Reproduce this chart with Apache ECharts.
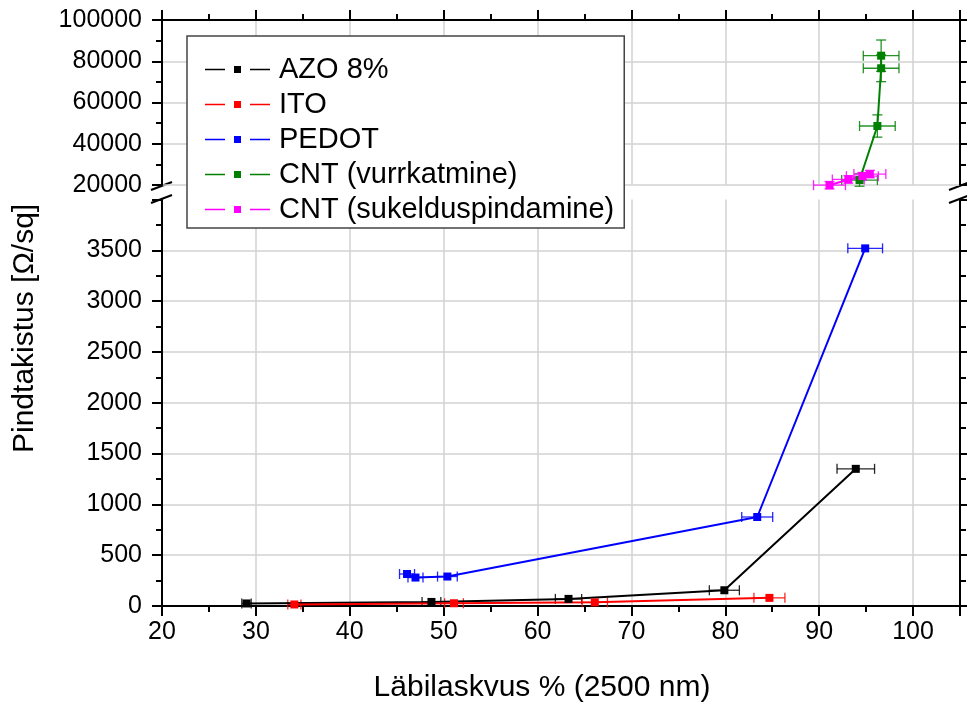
<!DOCTYPE html>
<html>
<head>
<meta charset="utf-8">
<script src="https://cdn.jsdelivr.net/npm/echarts@6/dist/echarts.min.js"></script>
<style>
html,body{margin:0;padding:0;background:#fff;}
#chart{width:967px;height:706px;}
</style>
</head>
<body>
<div id="chart"></div>
<script>
// ---- data ----
const seriesNames = ['AZO 8%', 'ITO', 'PEDOT', 'CNT (vurrkatmine)', 'CNT (sukelduspindamine)'];
const azoX = [29.0, 48.7, 63.3, 79.9, 93.9];
const azoY = [25, 40, 70, 155, 1350];
const azoXErr = [0.5, 1.0, 1.4, 1.6, 2.0];
const itoX = [34.1, 51.1, 66.1, 84.7];
const itoY = [15, 27, 36, 80];
const itoXErr = [0.7, 1.0, 1.35, 1.65];
const pedotX = [46.1, 47.0, 50.4, 83.4, 94.9];
const pedotY = [315, 280, 290, 876, 3520];
const pedotXErr = [0.8, 0.8, 1.05, 1.65, 1.85];
const cntSpinX = [94.3, 96.2, 96.6, 96.6];
const cntSpinY = [22400, 48600, 76600, 82700];
const cntSpinXErr = [1.9, 1.9, 1.9, 1.9];
const cntSpinYErr = [3000, 5400, 6500, 7600];
const cntDipX = [91.1, 93.1, 94.6, 95.4];
const cntDipY = [19900, 22700, 24300, 25300];
const cntDipXErr = [1.7, 1.7, 1.7, 1.7];
const cntDipYErr = [1800, 1800, 1800, 1800];
const xTicks = [20, 30, 40, 50, 60, 70, 80, 90, 100];
const yLowTicks = [0, 500, 1000, 1500, 2000, 2500, 3000, 3500];
const yHighTicks = [20000, 40000, 60000, 80000, 100000];
const xTitle = 'Läbilaskvus % (2500 nm)';
const yTitle = 'Pindtakistus [Ω/sq]';

const colors = ['#000000', '#ff0000', '#0000ff', '#008000', '#ff00ff'];
const FONT = 'Liberation Sans, Arial, sans-serif';

function pts(xs, ys) { return xs.map((x, i) => [x, ys[i]]); }
function errPts(xs, ys, xe, ye) { return xs.map((x, i) => [x, ys[i], xe ? xe[i] : 0, ye ? ye[i] : 0]); }

function errSeries(idx, data, color, xi, yi) {
  return {
    type: 'custom', name: 'err_' + idx, xAxisIndex: xi, yAxisIndex: yi, data: data,
    silent: true, z: 3, legendHoverLink: false, itemStyle: { color: color },
    encode: { x: 0, y: 1 },
    renderItem: function (params, api) {
      const x = api.value(0), y = api.value(1), xe = api.value(2), ye = api.value(3);
      const c = 5;
      const children = [];
      const st = { stroke: color, lineWidth: 1.3, opacity: 0.85 };
      if (xe > 0) {
        const a = api.coord([x - xe, y]), b = api.coord([x + xe, y]);
        children.push({ type: 'line', shape: { x1: a[0], y1: a[1], x2: b[0], y2: b[1] }, style: st });
        children.push({ type: 'line', shape: { x1: a[0], y1: a[1] - c, x2: a[0], y2: a[1] + c }, style: st });
        children.push({ type: 'line', shape: { x1: b[0], y1: b[1] - c, x2: b[0], y2: b[1] + c }, style: st });
      }
      if (ye > 0) {
        const a = api.coord([x, y - ye]), b = api.coord([x, y + ye]);
        children.push({ type: 'line', shape: { x1: a[0], y1: a[1], x2: b[0], y2: b[1] }, style: st });
        children.push({ type: 'line', shape: { x1: a[0] - c, y1: a[1], x2: a[0] + c, y2: a[1] }, style: st });
        children.push({ type: 'line', shape: { x1: b[0] - c, y1: b[1], x2: b[0] + c, y2: b[1] }, style: st });
      }
      return { type: 'group', children: children };
    }
  };
}
function lineSeries(name, data, color, xi, yi) {
  return {
    type: 'line', name: name, xAxisIndex: xi, yAxisIndex: yi, data: data,
    symbol: 'rect', symbolSize: 8, clip: false, z: 4, color: color,
    lineStyle: { color: color, width: 2 },
    itemStyle: { color: color }
  };
}

const axisLineStyle = { show: true, lineStyle: { color: '#000', width: 2 } };
const splitStyle = { show: true, lineStyle: { color: '#d2d2d2', width: 1.5 } };
const tickStyle = { show: true, inside: false, length: 10, lineStyle: { color: '#000', width: 2 } };
const minorStyle = { show: true, splitNumber: 2, length: 6, lineStyle: { color: '#000', width: 2 } };
const labelFont = { fontFamily: FONT, fontSize: 25, color: '#000' };

const xBase = {
  type: 'value', min: 20, max: 105, interval: 10,
  axisLine: axisLineStyle, axisTick: tickStyle, minorTick: minorStyle,
  splitLine: splitStyle
};

const option = {
  animation: false,
  backgroundColor: '#ffffff',
  grid: [
    { left: 162, right: 7, top: 199.6, height: 406.4 },
    { left: 162, right: 7, top: 20, height: 165 }
  ],
  xAxis: [
    Object.assign({}, xBase, {
      gridIndex: 0, position: 'bottom',
      axisLabel: Object.assign({ margin: 14, showMaxLabel: false,
        formatter: v => xTicks.indexOf(v) >= 0 ? String(v) : '' }, labelFont)
    }),
    Object.assign({}, xBase, {
      gridIndex: 1, position: 'top',
      axisLabel: { show: false }
    })
  ],
  yAxis: [
    {
      type: 'value', gridIndex: 0, position: 'left', min: 0, max: 4000, interval: 500,
      axisLine: axisLineStyle, axisTick: tickStyle, minorTick: minorStyle,
      splitLine: Object.assign({ showMaxLine: false }, splitStyle),
      axisLabel: Object.assign({ margin: 20, showMaxLabel: false,
        formatter: v => yLowTicks.indexOf(v) >= 0 ? String(v) : '' }, labelFont)
    },
    {
      type: 'value', gridIndex: 0, position: 'right', min: 0, max: 4000, interval: 500,
      axisLine: axisLineStyle, axisTick: tickStyle, minorTick: minorStyle,
      splitLine: { show: false }, axisLabel: { show: false }
    },
    {
      type: 'value', gridIndex: 1, position: 'left', min: 20000, max: 100000, interval: 20000,
      axisLine: axisLineStyle, axisTick: tickStyle, minorTick: minorStyle,
      splitLine: splitStyle,
      axisLabel: Object.assign({ margin: 20,
        formatter: v => yHighTicks.indexOf(v) >= 0 ? String(v) : '' }, labelFont)
    },
    {
      type: 'value', gridIndex: 1, position: 'right', min: 20000, max: 100000, interval: 20000,
      axisLine: axisLineStyle, axisTick: tickStyle, minorTick: minorStyle,
      splitLine: { show: false }, axisLabel: { show: false }
    }
  ],
  legend: {
    left: 187, top: 36, orient: 'vertical',
    data: seriesNames,
    icon: 'path://M0,3.3H20V4.7H0Z M29,0.5H36V7.5H29Z M45,3.3H65V4.7H45Z',
    itemWidth: 65, itemHeight: 8, itemGap: 6,
    padding: [19, 10, 4, 18],
    borderColor: '#444', borderWidth: 1.5,
    backgroundColor: '#ffffff',
    selectedMode: false,
    textStyle: { fontFamily: FONT, fontSize: 29, color: '#000', padding: [0, 0, 0, 4], lineHeight: 28 }
  },
  graphic: [
    { type: 'text', x: 542, y: 688,
      style: { text: xTitle, align: 'center', verticalAlign: 'middle',
        font: '30px ' + FONT, fill: '#000' } },
    { type: 'text', rotation: Math.PI / 2, x: 25, y: 453,
      style: { text: yTitle, align: 'left', verticalAlign: 'middle',
        font: '30px ' + FONT, fill: '#000' } },
    // axis break marks (left and right)
    { type: 'line', shape: { x1: 151, y1: 190, x2: 172, y2: 182 }, style: { stroke: '#000', lineWidth: 2 } },
    { type: 'line', shape: { x1: 151, y1: 203, x2: 172, y2: 195 }, style: { stroke: '#000', lineWidth: 2 } },
    { type: 'line', shape: { x1: 949, y1: 190, x2: 970, y2: 182 }, style: { stroke: '#000', lineWidth: 2 } },
    { type: 'line', shape: { x1: 949, y1: 203, x2: 970, y2: 195 }, style: { stroke: '#000', lineWidth: 2 } }
  ],
  series: [
    errSeries(0, errPts(azoX, azoY, azoXErr, null), colors[0], 0, 0),
    errSeries(1, errPts(itoX, itoY, itoXErr, null), colors[1], 0, 0),
    errSeries(2, errPts(pedotX, pedotY, pedotXErr, null), colors[2], 0, 0),
    errSeries(3, errPts(cntSpinX, cntSpinY, cntSpinXErr, cntSpinYErr), colors[3], 1, 2),
    errSeries(4, errPts(cntDipX, cntDipY, cntDipXErr, cntDipYErr), colors[4], 1, 2),
    lineSeries(seriesNames[0], pts(azoX, azoY), colors[0], 0, 0),
    lineSeries(seriesNames[1], pts(itoX, itoY), colors[1], 0, 0),
    lineSeries(seriesNames[2], pts(pedotX, pedotY), colors[2], 0, 0),
    lineSeries(seriesNames[3], pts(cntSpinX, cntSpinY), colors[3], 1, 2),
    lineSeries(seriesNames[4], pts(cntDipX, cntDipY), colors[4], 1, 2)
  ]
};

const chart = echarts.init(document.getElementById('chart'), null, { renderer: 'canvas' });
chart.setOption(option);
</script>
</body>
</html>
